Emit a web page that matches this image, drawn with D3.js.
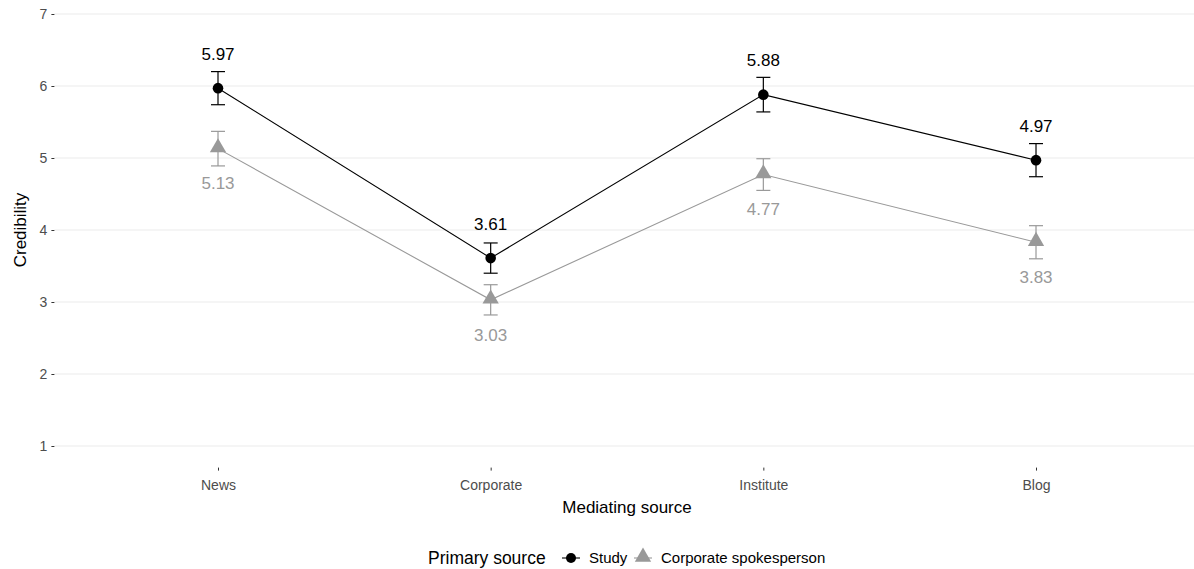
<!DOCTYPE html>
<html>
<head>
<meta charset="utf-8">
<script src="https://cdn.jsdelivr.net/npm/d3@7"></script>
<style>
  body { margin: 0; background: #fff; }
  svg { display: block; font-family: "Liberation Sans", Arial, sans-serif; }
</style>
</head>
<body>
<svg id="chart" width="1194" height="569"></svg>
<script>
// Mediating source categories (x axis)
const categories = ["News", "Corporate", "Institute", "Blog"];
// Primary source groups
const groups = ["Study", "Corporate spokesperson"];
// Mean credibility per category for each primary source
const studyMeans = [5.97, 3.61, 5.88, 4.97];
const spokesMeans = [5.13, 3.03, 4.77, 3.83];
// Half-width of the error bars
const studyErr = [0.23, 0.21, 0.24, 0.23];
const spokesErr = [0.24, 0.21, 0.22, 0.23];
// Y axis ticks
const yTicks = [1, 2, 3, 4, 5, 6, 7];

const svg = d3.select("#chart");

// Panel extents (discrete x expanded by 0.6 of a step, y by 5%)
const step = 272.67;
const firstX = 218;
const panelLeft = firstX - 0.6 * step;
const panelRight = firstX + 3.6 * step;
const x = d3.scalePoint().domain(categories).range([firstX, firstX + 3 * step]);
const y = d3.scaleLinear().domain([1, 7]).range([446, 14]);
const panelTop = y(7.3), panelBottom = y(0.7);

const colors = { "Study": "#000000", "Corporate spokesperson": "#999999" };
const labelColors = { "Study": "#000000", "Corporate spokesperson": "#999999" };

const series = [
  { name: "Study", means: studyMeans, errs: studyErr, shape: "circle", nudge: 0.48 },
  { name: "Corporate spokesperson", means: spokesMeans, errs: spokesErr, shape: "triangle", nudge: -0.48 }
];

// Grid lines
svg.append("g").selectAll("line").data(yTicks).join("line")
  .attr("x1", panelLeft).attr("x2", panelRight)
  .attr("y1", d => y(d)).attr("y2", d => y(d))
  .attr("stroke", "#ebebeb").attr("stroke-width", 1);

// Y axis
const yAxis = svg.append("g").attr("transform", `translate(${panelLeft},0)`)
  .call(d3.axisLeft(y).tickValues(yTicks).tickSize(3).tickPadding(4).tickFormat(d3.format("d")));
yAxis.select(".domain").remove();
yAxis.selectAll(".tick line").attr("stroke", "#333333");
yAxis.selectAll(".tick text").attr("fill", "#4d4d4d").style("font-size", "14px")
  .style("font-family", "Liberation Sans, Arial, sans-serif");

// X axis
const xAxis = svg.append("g").attr("transform", `translate(0,${panelBottom})`)
  .call(d3.axisBottom(x).tickSize(3).tickPadding(9));
xAxis.select(".domain").remove();
xAxis.selectAll(".tick line").attr("stroke", "#333333");
xAxis.selectAll(".tick text").attr("fill", "#4d4d4d").style("font-size", "14px")
  .style("font-family", "Liberation Sans, Arial, sans-serif");

// Axis titles
svg.append("text").attr("x", (panelLeft + panelRight) / 2).attr("y", 513)
  .attr("text-anchor", "middle").attr("font-size", 17).attr("fill", "#000")
  .text("Mediating source");
svg.append("text").attr("transform", `translate(26,${(panelTop + panelBottom) / 2}) rotate(-90)`)
  .attr("text-anchor", "middle").attr("font-size", 17).attr("fill", "#000")
  .text("Credibility");

const triangle = d3.symbol().type(d3.symbolTriangle).size(115);

series.forEach(s => {
  const col = colors[s.name];
  const pts = categories.map((c, i) => ({ c, v: s.means[i], e: s.errs[i] }));
  const g = svg.append("g");

  // connecting line
  g.append("path").datum(pts)
    .attr("fill", "none").attr("stroke", col).attr("stroke-width", 1.1)
    .attr("d", d3.line().x(d => x(d.c)).y(d => y(d.v)));

  // error bars
  const eb = g.append("g").attr("stroke", col).attr("stroke-width", 1.2);
  eb.selectAll(".v").data(pts).join("line")
    .attr("x1", d => x(d.c)).attr("x2", d => x(d.c))
    .attr("y1", d => y(d.v - d.e)).attr("y2", d => y(d.v + d.e));
  eb.selectAll(".t").data(pts).join("line")
    .attr("x1", d => x(d.c) - 7).attr("x2", d => x(d.c) + 7)
    .attr("y1", d => y(d.v + d.e)).attr("y2", d => y(d.v + d.e));
  eb.selectAll(".b").data(pts).join("line")
    .attr("x1", d => x(d.c) - 7).attr("x2", d => x(d.c) + 7)
    .attr("y1", d => y(d.v - d.e)).attr("y2", d => y(d.v - d.e));

  // points
  if (s.shape === "circle") {
    g.selectAll("circle").data(pts).join("circle")
      .attr("cx", d => x(d.c)).attr("cy", d => y(d.v)).attr("r", 5.3).attr("fill", col);
  } else {
    g.selectAll(".tri").data(pts).join("path")
      .attr("transform", d => `translate(${x(d.c)},${y(d.v) - 1})`)
      .attr("d", triangle).attr("fill", col);
  }

  // value labels
  g.selectAll("text").data(pts).join("text")
    .attr("x", d => x(d.c)).attr("y", d => y(d.v + s.nudge))
    .attr("dy", "0.36em").attr("text-anchor", "middle")
    .attr("font-size", 17).attr("fill", labelColors[s.name])
    .text(d => d3.format(".2f")(d.v));
});

// Legend
const lg = svg.append("g").attr("transform", "translate(0,558)");
lg.append("text").attr("x", 428).attr("y", 0).attr("dy", "0.36em")
  .attr("font-size", 17.5).attr("fill", "#000").text("Primary source");
const keys = [
  { name: "Study", kx: 571, tx: 589 },
  { name: "Corporate spokesperson", kx: 643, tx: 661 }
];
keys.forEach((k, i) => {
  const col = colors[k.name];
  lg.append("line").attr("x1", k.kx - 9).attr("x2", k.kx + 9).attr("y1", 0).attr("y2", 0)
    .attr("stroke", col).attr("stroke-width", 1.1);
  if (i === 0) {
    lg.append("circle").attr("cx", k.kx).attr("cy", 0).attr("r", 5).attr("fill", col);
  } else {
    lg.append("path").attr("transform", `translate(${k.kx},-1)`).attr("d", triangle).attr("fill", col);
  }
  lg.append("text").attr("x", k.tx).attr("y", 0).attr("dy", "0.36em")
    .attr("font-size", 15).attr("fill", "#000").text(k.name);
});
</script>
</body>
</html>
